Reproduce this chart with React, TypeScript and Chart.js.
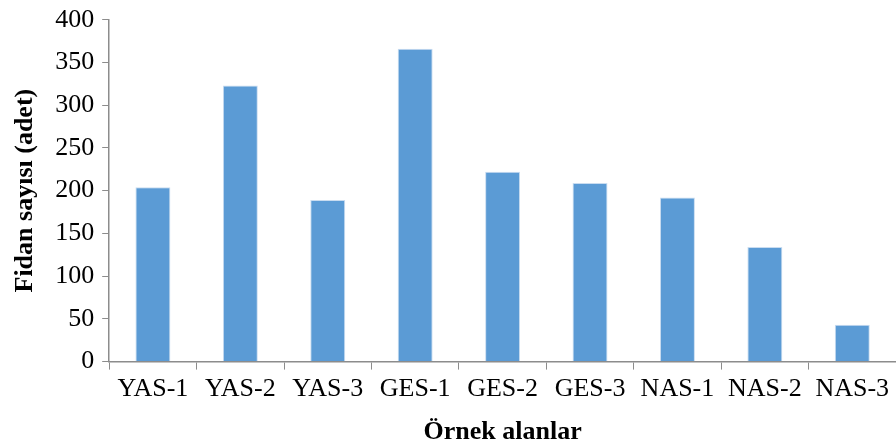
import React, { useEffect, useRef } from "react";
import { Chart, registerables } from "chart.js";

Chart.register(...registerables);

const categories = ["YAS-1", "YAS-2", "YAS-3", "GES-1", "GES-2", "GES-3", "NAS-1", "NAS-2", "NAS-3"];
const values = [204, 323, 189, 366, 222, 209, 192, 134, 43];
const yTitle = "Fidan sayısı (adet)";
const xTitle = "Örnek alanlar";

export default function App() {
  const ref = useRef<HTMLCanvasElement | null>(null);
  useEffect(() => {
    document.body.style.margin = "0";
    const axisColor = "#8c8c8c";
    const font = "'Liberation Serif', 'Times New Roman', serif";
    const chart = new Chart(ref.current!, {
      type: "bar",
      data: {
        labels: categories,
        datasets: [
          {
            data: values,
            backgroundColor: "#5b9bd5",
            borderColor: "#c9dcf0",
            borderWidth: { top: 1, left: 1, right: 1, bottom: 0 },
            barPercentage: 0.4,
            categoryPercentage: 1,
          },
        ],
      },
      options: {
        responsive: false,
        animation: false,
        layout: { padding: { top: 1, right: 0, left: 10, bottom: 0 } },
        plugins: { legend: { display: false }, tooltip: { enabled: false } },
        scales: {
          x: {
            grid: { display: true, drawOnChartArea: false, drawTicks: true, tickLength: 8, color: axisColor, offset: true },
            border: { display: true, color: axisColor, width: 1.5 },
            ticks: { color: "#000", font: { family: font, size: 26 }, padding: 4, maxRotation: 0, autoSkip: false },
            title: { display: true, text: xTitle, color: "#000", font: { family: font, size: 26, weight: "bold" }, padding: { top: 8, bottom: 0 } },
          },
          y: {
            min: 0,
            max: 400,
            ticks: { stepSize: 50, color: "#000", font: { family: font, size: 26, lineHeight: 0.9 }, padding: 8 },
            grid: { display: true, drawOnChartArea: false, drawTicks: true, tickLength: 7, color: axisColor },
            border: { display: true, color: axisColor, width: 1.5 },
            title: { display: true, text: yTitle, color: "#000", font: { family: font, size: 26, weight: "bold" }, padding: { top: 0, bottom: 6 } },
          },
        },
      },
    });
    return () => chart.destroy();
  }, []);
  return <canvas ref={ref} width={896} height={448} style={{ display: "block" }} />;
}
